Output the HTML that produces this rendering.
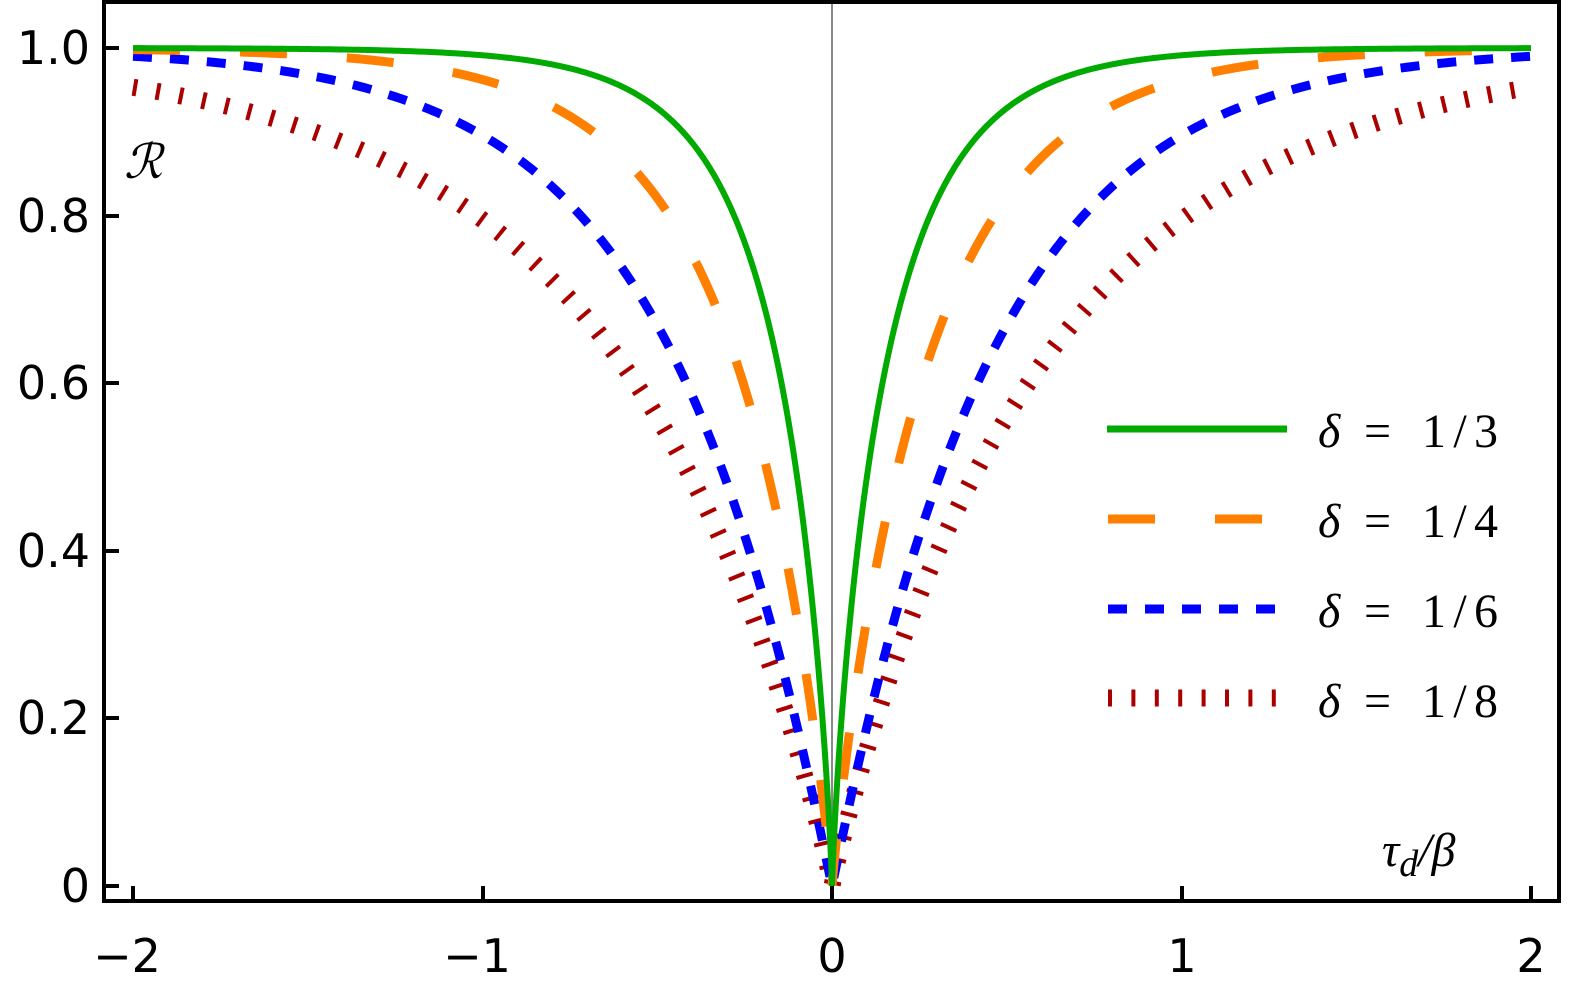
<!DOCTYPE html>
<html><head><meta charset="utf-8"><style>
html,body{margin:0;padding:0;background:#fff;overflow:hidden;width:1576px;height:999px;}
svg{display:block;}
.t{font-family:"DejaVu Sans","Liberation Sans",sans-serif;font-size:46px;fill:#000;}
.m{font-family:"Liberation Serif","DejaVu Serif",serif;font-size:48px;fill:#000;}
</style></head><body>
<svg id="s" width="1576" height="999" viewBox="0 0 1576 999" xmlns="http://www.w3.org/2000/svg">
<rect x="0" y="0" width="1576" height="999" fill="#fff"/>
<line x1="832" y1="4" x2="832" y2="901" stroke="#888" stroke-width="2"/>
<g id="curves"></g>
<rect x="104" y="2" width="1455" height="899" fill="none" stroke="#000" stroke-width="4"/>
<g stroke="#000" stroke-width="4">
<line x1="133" y1="901" x2="133" y2="886"/><line x1="483" y1="901" x2="483" y2="886"/><line x1="832" y1="901" x2="832" y2="886"/><line x1="1182" y1="901" x2="1182" y2="886"/><line x1="1531" y1="901" x2="1531" y2="886"/>
<line x1="104" y1="48" x2="119" y2="48"/><line x1="104" y1="216" x2="119" y2="216"/><line x1="104" y1="383" x2="119" y2="383"/><line x1="104" y1="551" x2="119" y2="551"/><line x1="104" y1="718" x2="119" y2="718"/><line x1="104" y1="886" x2="119" y2="886"/>
</g>
<g class="t" text-anchor="end">
<text x="90" y="64">1.0</text><text x="90" y="232">0.8</text><text x="90" y="399">0.6</text><text x="90" y="567">0.4</text><text x="90" y="734">0.2</text><text x="90" y="902">0</text>
</g>
<g class="t" text-anchor="middle">
<text x="127" y="972">−2</text><text x="477" y="972">−1</text><text x="832" y="972">0</text><text x="1182" y="972">1</text><text x="1531" y="972">2</text>
</g>
<text x="124" y="178" class="m" font-style="italic" font-size="64">ℛ</text>
<text x="1382" y="866" class="m" font-style="italic" font-size="54">τ<tspan font-size="38" dy="10">d</tspan><tspan dy="-10">/β</tspan></text>
<g>
<line x1="1107" y1="429" x2="1287" y2="429" stroke="#00aa00" stroke-width="7"/>
<line x1="1108" y1="519" x2="1280" y2="519" stroke="#ff7f00" stroke-width="9" stroke-dasharray="47 60"/>
<line x1="1108" y1="609" x2="1280" y2="609" stroke="#0000ff" stroke-width="9" stroke-dasharray="19 18"/>
<line x1="1108" y1="698" x2="1280" y2="698" stroke="#aa0000" stroke-width="17" stroke-dasharray="4 19.4"/>
</g>
<g class="m" font-size="54">
<text x="1318" y="447" font-style="italic">δ</text><text x="1364" y="447">=</text><text x="1422" y="447" textLength="76">1/3</text>
<text x="1318" y="537" font-style="italic">δ</text><text x="1364" y="537">=</text><text x="1422" y="537" textLength="76">1/4</text>
<text x="1318" y="627" font-style="italic">δ</text><text x="1364" y="627">=</text><text x="1422" y="627" textLength="76">1/6</text>
<text x="1318" y="717" font-style="italic">δ</text><text x="1364" y="717">=</text><text x="1422" y="717" textLength="76">1/8</text>
</g>
</svg>
<script>
var specs=[
 {a:0.616,p:0.95,c:"#aa0000",w:17,d:"4 19.4"},
 {a:0.453,p:1.03,c:"#0000ff",w:9,d:"19 18"},
 {a:0.279,p:0.93,c:"#ff7f00",w:9,d:"47 60"},
 {a:0.16,p:0.85,c:"#00aa00",w:6,d:""}
];
var g=document.getElementById("curves"),ns="http://www.w3.org/2000/svg";
specs.forEach(function(s){
 var pts=[];
 for(var i=0;i<=800;i++){
  var u=-1+2*i/800;var x=2*Math.sign(u)*Math.pow(Math.abs(u),2);
  var r=1-Math.exp(-Math.pow(Math.abs(x)/s.a,s.p));
  pts.push((832+349.5*x).toFixed(2)+","+(886-838*r).toFixed(2));
 }
 var pl=document.createElementNS(ns,"polyline");
 pl.setAttribute("points",pts.join(" "));
 pl.setAttribute("fill","none");pl.setAttribute("stroke",s.c);
 pl.setAttribute("stroke-width",s.w);
 if(s.d)pl.setAttribute("stroke-dasharray",s.d);
 g.appendChild(pl);
});
</script>
</body></html>
